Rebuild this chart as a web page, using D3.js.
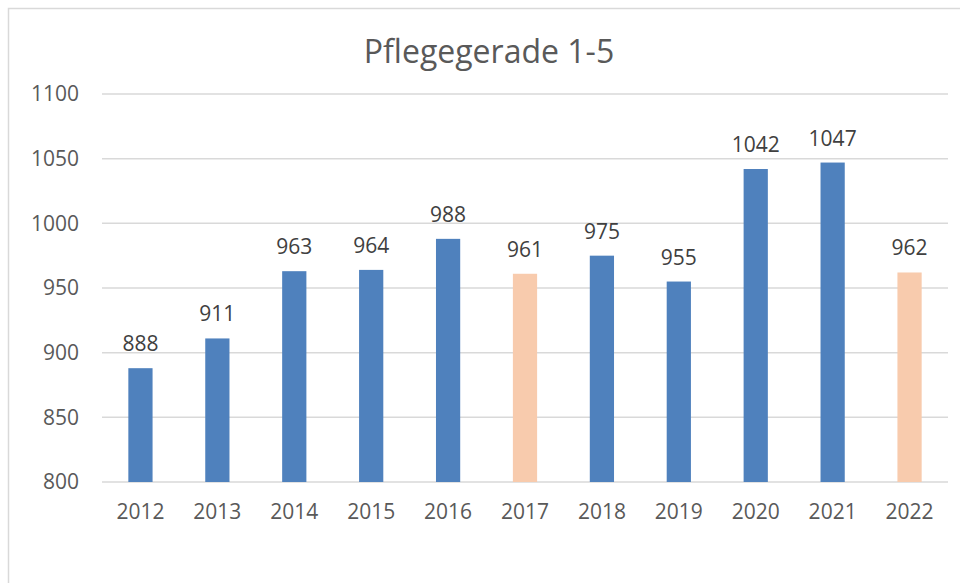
<!DOCTYPE html>
<html>
<head>
<meta charset="utf-8">
<script src="https://cdn.jsdelivr.net/npm/d3@7"></script>
<style>
  body { margin: 0; background: #fff; }
  svg { display: block; font-family: "Open Sans", sans-serif; }
</style>
</head>
<body>
<svg id="chart" width="960" height="583"></svg>
<script>
const years = ['2012', '2013', '2014', '2015', '2016', '2017', '2018', '2019', '2020', '2021', '2022'];
const values = [888, 911, 963, 964, 988, 961, 975, 955, 1042, 1047, 962];
const highlighted = ['2017', '2022']; // peach bars
const yTicks = [800, 850, 900, 950, 1000, 1050, 1100];

const svg = d3.select('#chart');
const textColor = '#595959';
const fontFam = '"Open Sans", sans-serif';

// outer frame of the chart area
svg.append('rect')
  .attr('x', 8.5).attr('y', 8.5)
  .attr('width', 980).attr('height', 620)
  .attr('fill', 'none')
  .attr('stroke', '#d9d9d9')
  .attr('stroke-width', 1.5);

const plotLeft = 102, plotRight = 948, plotTop = 94, plotBottom = 482;

const x = d3.scaleBand().domain(years).range([plotLeft, plotRight]).padding(0);
const y = d3.scaleLinear().domain([800, 1100]).range([plotBottom, plotTop]);

// gridlines
svg.append('g')
  .selectAll('line')
  .data(yTicks)
  .join('line')
  .attr('x1', plotLeft).attr('x2', plotRight)
  .attr('y1', d => y(d)).attr('y2', d => y(d))
  .attr('stroke', '#d9d9d9')
  .attr('stroke-width', 1.5);

// y axis labels
const yAxis = svg.append('g')
  .attr('transform', `translate(${plotLeft - 23},0)`)
  .call(d3.axisLeft(y).tickValues(yTicks).tickFormat(d3.format('d')).tickSize(0).tickPadding(0));
yAxis.select('.domain').remove();
yAxis.selectAll('text')
  .attr('font-size', 21)
  .attr('font-family', fontFam)
  .attr('fill', textColor);

// x axis labels
const xAxis = svg.append('g')
  .attr('transform', `translate(0,${plotBottom})`)
  .call(d3.axisBottom(x).tickSize(0).tickPadding(22));
xAxis.select('.domain').remove();
xAxis.selectAll('text')
  .attr('font-size', 21)
  .attr('font-family', fontFam)
  .attr('fill', textColor);

// bars
const barW = x.bandwidth() * 0.315;
const data = years.map((yr, i) => ({ year: yr, value: values[i] }));

svg.append('g')
  .selectAll('rect')
  .data(data)
  .join('rect')
  .attr('x', d => x(d.year) + x.bandwidth() / 2 - barW / 2)
  .attr('y', d => y(d.value))
  .attr('width', barW)
  .attr('height', d => plotBottom - y(d.value))
  .attr('fill', d => highlighted.includes(d.year) ? '#f8cbad' : '#4f81bd');

// value labels
svg.append('g')
  .selectAll('text')
  .data(data)
  .join('text')
  .attr('x', d => x(d.year) + x.bandwidth() / 2)
  .attr('y', d => y(d.value) - 17)
  .attr('text-anchor', 'middle')
  .attr('font-size', 21)
  .attr('fill', '#404040')
  .text(d => d.value);

// title
svg.append('text')
  .attr('x', 489)
  .attr('y', 63)
  .attr('text-anchor', 'middle')
  .attr('font-size', 32)
  .attr('fill', textColor)
  .text('Pflegegerade 1-5');
</script>
</body>
</html>
